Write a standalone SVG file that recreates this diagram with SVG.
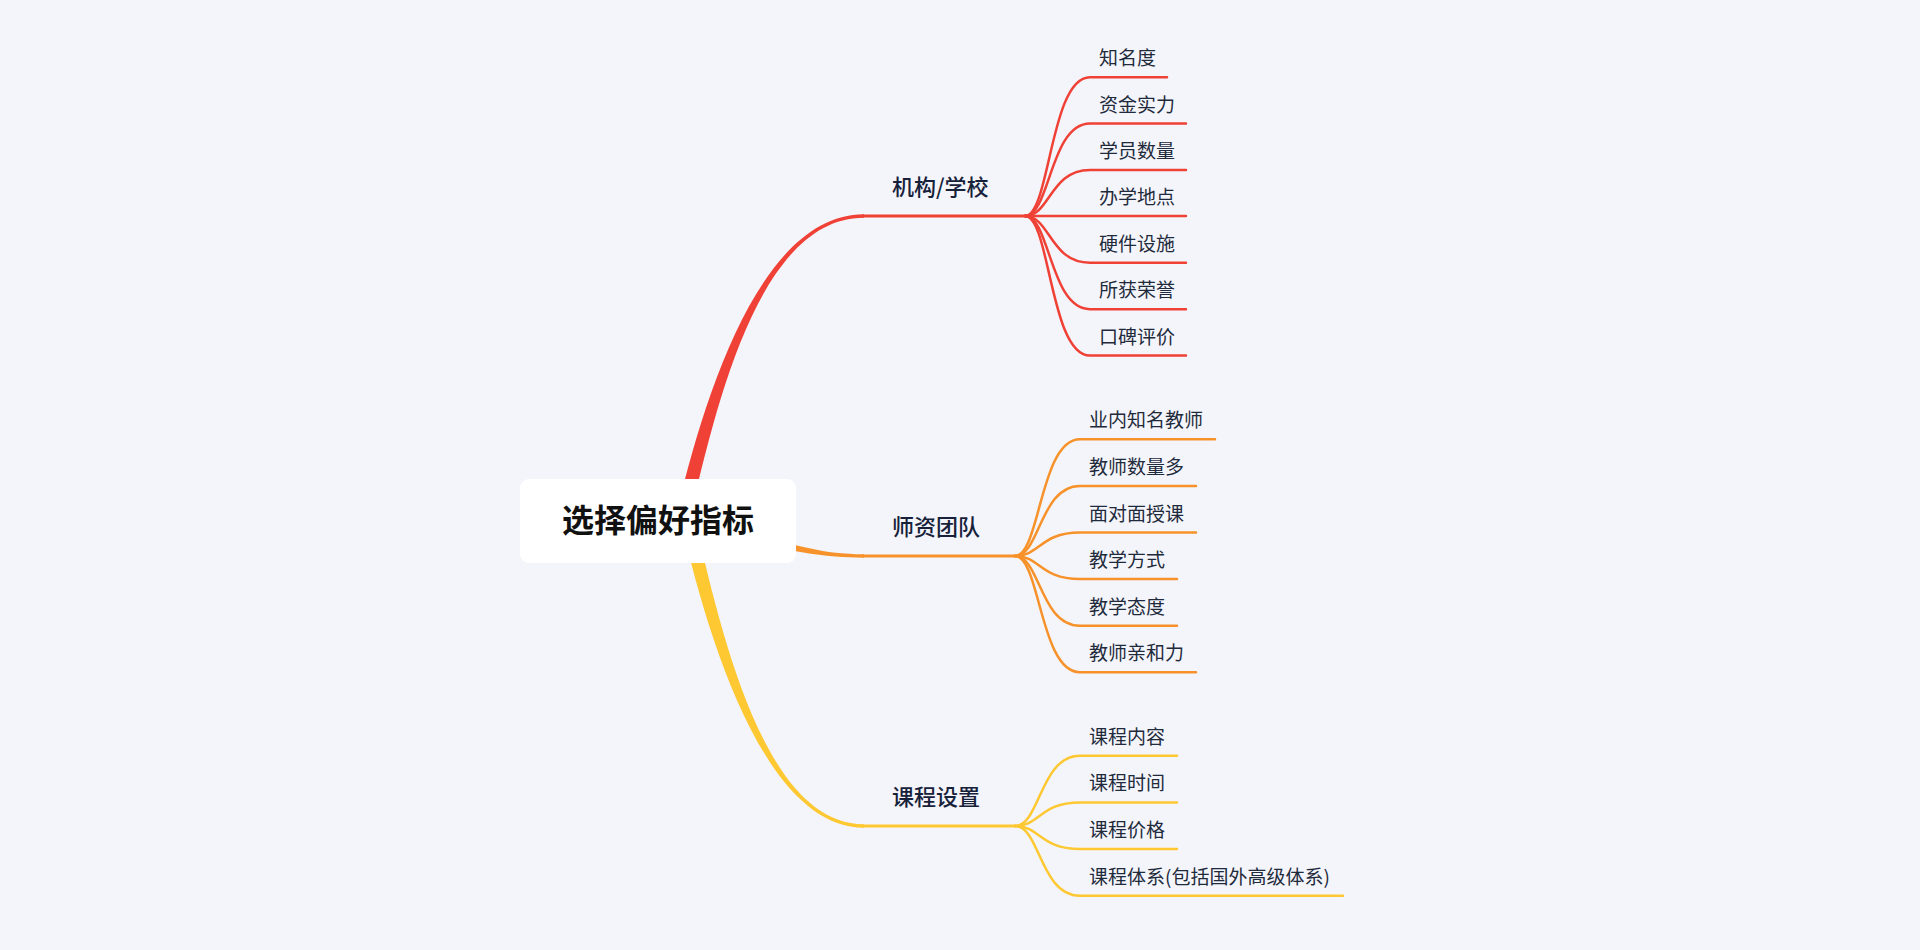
<svg xmlns="http://www.w3.org/2000/svg" width="1920" height="950" viewBox="0 0 1920 950">
<style>
.bg{fill:#F4F5FB}
.red{stroke:#EF4136;fill:none}
.ora{stroke:#F7922A;fill:none}
.yel{stroke:#FDC832;fill:none}
.sub{stroke-width:2.5;stroke-linecap:round}
.main{stroke-width:3}
.t{font-family:"Noto Sans CJK SC","Noto Sans",sans-serif;fill:#1F2B3C}
.leaf{font-size:19px}
.topic{font-size:22px;font-weight:500;fill:#17223A}
.root{font-size:32px;font-weight:700;fill:#111111;text-anchor:middle}
</style>
<rect class="bg" x="0" y="0" width="1920" height="950"/>
<g id="connectors">
  <path d="M675.2 519.4 C703.2 398.4 760 214.25 864 214.25 L864 217.75 C760 217.75 716.8 401.6 688.8 522.6 Z" fill="#EF4136"/>
  <path d="M690.6 523 C775.6 533 800 554.25 864 554.25 L864 557.75 C800 557.75 774.4 543 689.4 533 Z" fill="#F7922A"/>
  <path d="M694.8 519.4 C722.8 640.4 766 824.25 864 824.25 L864 827.75 C766 827.75 709.2 643.6 681.2 522.6 Z" fill="#FDC832"/>
  <line class="red main" x1="862" y1="216" x2="1026" y2="216"/>
  <line class="ora main" x1="862" y1="556" x2="1016" y2="556"/>
  <line class="yel main" x1="862" y1="826" x2="1016" y2="826"/>
  <path class="red sub" d="M1025 216 C1050 216 1050 77.2 1090 77.2 L1167 77.2"/>
  <path class="red sub" d="M1025 216 C1050 216 1050 123.6 1090 123.6 L1186 123.6"/>
  <path class="red sub" d="M1025 216 C1050 216 1050 170 1090 170 L1186 170"/>
  <path class="red sub" d="M1025 216 L1186 216"/>
  <path class="red sub" d="M1025 216 C1050 216 1050 262.8 1090 262.8 L1186 262.8"/>
  <path class="red sub" d="M1025 216 C1050 216 1050 309.2 1090 309.2 L1186 309.2"/>
  <path class="red sub" d="M1025 216 C1050 216 1050 355.6 1090 355.6 L1186 355.6"/>
  <path class="ora sub" d="M1015 556 C1040 556 1040 439.3 1080 439.3 L1215 439.3"/>
  <path class="ora sub" d="M1015 556 C1040 556 1040 485.9 1080 485.9 L1196 485.9"/>
  <path class="ora sub" d="M1015 556 C1040 556 1040 532.5 1080 532.5 L1196 532.5"/>
  <path class="ora sub" d="M1015 556 C1040 556 1040 579.1 1080 579.1 L1177 579.1"/>
  <path class="ora sub" d="M1015 556 C1040 556 1040 625.7 1080 625.7 L1177 625.7"/>
  <path class="ora sub" d="M1015 556 C1040 556 1040 672.3 1080 672.3 L1196 672.3"/>
  <path class="yel sub" d="M1015 826 C1040 826 1040 755.8 1080 755.8 L1177 755.8"/>
  <path class="yel sub" d="M1015 826 C1040 826 1040 802.4 1080 802.4 L1177 802.4"/>
  <path class="yel sub" d="M1015 826 C1040 826 1040 849.1 1080 849.1 L1177 849.1"/>
  <path class="yel sub" d="M1015 826 C1040 826 1040 895.8 1080 895.8 L1343 895.8"/>
</g>
<g id="root">
  <rect x="520" y="479" width="276" height="84" rx="9" fill="#FFFFFF"/>
  <text class="t root" x="658" y="532">选择偏好指标</text>
</g>
<g id="topic-jigou"><text class="t topic" x="892" y="195">机构/学校</text></g>
<g id="topic-shizi"><text class="t topic" x="892" y="535">师资团队</text></g>
<g id="topic-kecheng"><text class="t topic" x="892" y="805">课程设置</text></g>
<g id="leaf-r1"><text class="t leaf" x="1099" y="65">知名度</text></g>
<g id="leaf-r2"><text class="t leaf" x="1099" y="111.6">资金实力</text></g>
<g id="leaf-r3"><text class="t leaf" x="1099" y="158">学员数量</text></g>
<g id="leaf-r4"><text class="t leaf" x="1099" y="204.4">办学地点</text></g>
<g id="leaf-r5"><text class="t leaf" x="1099" y="250.8">硬件设施</text></g>
<g id="leaf-r6"><text class="t leaf" x="1099" y="297.2">所获荣誉</text></g>
<g id="leaf-r7"><text class="t leaf" x="1099" y="343.6">口碑评价</text></g>
<g id="leaf-o1"><text class="t leaf" x="1089" y="427.3">业内知名教师</text></g>
<g id="leaf-o2"><text class="t leaf" x="1089" y="473.9">教师数量多</text></g>
<g id="leaf-o3"><text class="t leaf" x="1089" y="520.5">面对面授课</text></g>
<g id="leaf-o4"><text class="t leaf" x="1089" y="567.1">教学方式</text></g>
<g id="leaf-o5"><text class="t leaf" x="1089" y="613.7">教学态度</text></g>
<g id="leaf-o6"><text class="t leaf" x="1089" y="660.3">教师亲和力</text></g>
<g id="leaf-y1"><text class="t leaf" x="1089" y="743.8">课程内容</text></g>
<g id="leaf-y2"><text class="t leaf" x="1089" y="790.4">课程时间</text></g>
<g id="leaf-y3"><text class="t leaf" x="1089" y="837.1">课程价格</text></g>
<g id="leaf-y4"><text class="t leaf" x="1089" y="883.8">课程体系(包括国外高级体系)</text></g>
</svg>
